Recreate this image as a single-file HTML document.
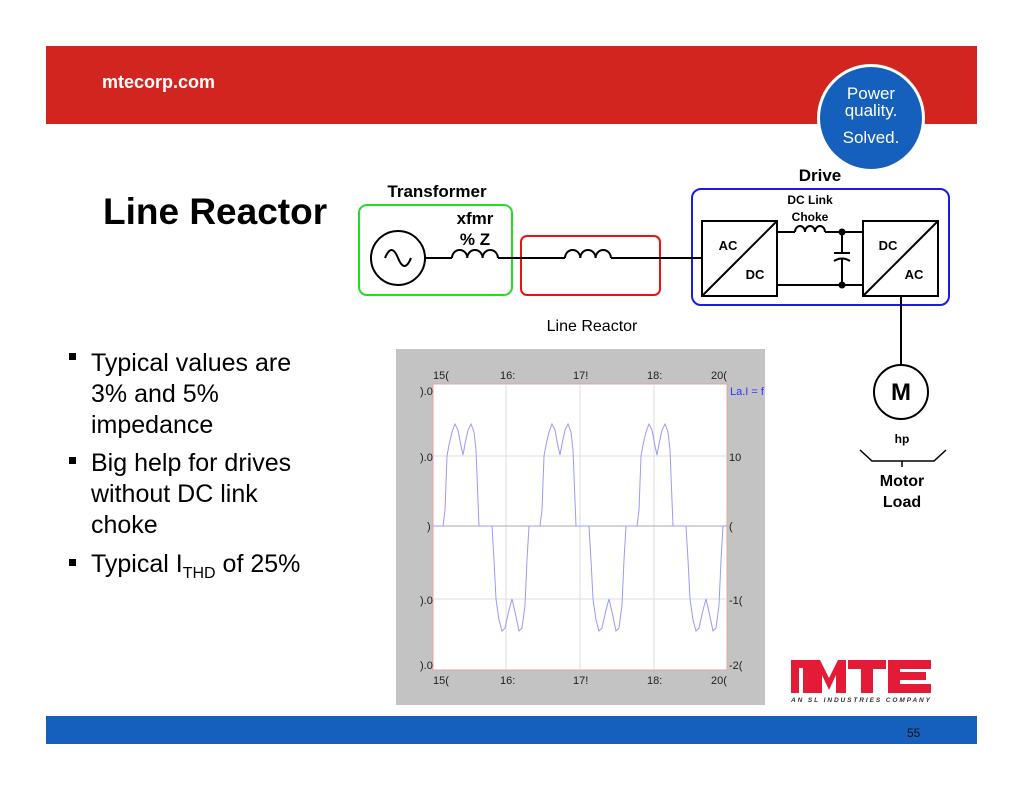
<!DOCTYPE html>
<html><head><meta charset="utf-8"><style>
html,body{margin:0;padding:0;background:#fff;}
svg{display:block;font-family:"Liberation Sans",Arial,sans-serif;}
</style></head><body>
<svg width="1024" height="791" viewBox="0 0 1024 791" xmlns="http://www.w3.org/2000/svg">
<rect x="46" y="46" width="931" height="78" fill="#d2251f"/>
<text x="102" y="88" font-size="18" font-weight="bold" fill="#fff">mtecorp.com</text>
<circle cx="871" cy="118" r="54" fill="#fff"/>
<circle cx="871" cy="118" r="51" fill="#1560bd"/>
<text x="871" y="99" font-size="17" fill="#fff" text-anchor="middle">Power</text>
<text x="871" y="116" font-size="17" fill="#fff" text-anchor="middle">quality.</text>
<text x="871" y="143" font-size="17" fill="#fff" text-anchor="middle">Solved.</text>

<text x="103" y="224" font-size="37" font-weight="bold" fill="#000">Line Reactor</text>
<g font-size="25" fill="#000">
<rect x="69" y="353" width="7" height="7" fill="#000"/>
<text x="91" y="371">Typical values are</text>
<text x="91" y="402">3% and 5%</text>
<text x="91" y="433">impedance</text>
<rect x="69" y="457" width="7" height="7" fill="#000"/>
<text x="91" y="471">Big help for drives</text>
<text x="91" y="502">without DC link</text>
<text x="91" y="533">choke</text>
<rect x="69" y="559" width="7" height="7" fill="#000"/>
<text x="91" y="572">Typical I<tspan font-size="16" dy="6">THD</tspan><tspan dy="-6"> of 25%</tspan></text>
</g>

<!-- diagram -->
<g fill="none" stroke="#000" stroke-width="2">
<rect x="359" y="205" width="153" height="90" rx="8" stroke="#22dd22"/>
<rect x="521" y="236" width="139" height="59" rx="6" stroke="#ee1111"/>
<rect x="692" y="189" width="257" height="116" rx="9" stroke="#1a1aee"/>
<circle cx="398" cy="258" r="27"/>
<path d="M385 258 q6.5 -16 13 0 t13 0"/>
<path d="M425 258 H452 M498 258 H565 M611 258 H702"/>
<path d="M452 258 a7.6 8 0 0 1 15.3 0 a7.6 8 0 0 1 15.3 0 a7.6 8 0 0 1 15.3 0"/>
<path d="M565 258 a7.6 8 0 0 1 15.3 0 a7.6 8 0 0 1 15.3 0 a7.6 8 0 0 1 15.3 0"/>
<rect x="702" y="221" width="75" height="75"/>
<path d="M702 296 L777 221"/>
<rect x="863" y="221" width="75" height="75"/>
<path d="M863 296 L938 221"/>
<path d="M777 232 H795 M825 232 H863 M777 285 H863"/>
<path d="M795 232 a5 6 0 0 1 10 0 a5 6 0 0 1 10 0 a5 6 0 0 1 10 0"/>
<path d="M842 232 V253 M842 259 V285 M834 253 H850 M834 261 q8 -5 16 0"/>
<path d="M901 296 V365"/>
<circle cx="901" cy="392" r="27"/>
<path d="M860 450 L872 461 H934 L946 450 M902 461 V467" stroke-width="1.5"/>
</g>
<circle cx="842" cy="232" r="3.5" fill="#000"/>
<circle cx="842" cy="285" r="3.5" fill="#000"/>
<g font-weight="bold" fill="#000" text-anchor="middle">
<text x="437" y="197" font-size="17">Transformer</text>
<text x="475" y="224" font-size="17">xfmr</text>
<text x="475" y="245" font-size="17">% Z</text>
<text x="820" y="181" font-size="17">Drive</text>
<text x="810" y="204" font-size="12">DC Link</text>
<text x="810" y="221" font-size="12">Choke</text>
<text x="728" y="250" font-size="13">AC</text>
<text x="755" y="279" font-size="13">DC</text>
<text x="888" y="250" font-size="13">DC</text>
<text x="914" y="279" font-size="13">AC</text>
<text x="901" y="400" font-size="24">M</text>
<text x="902" y="443" font-size="12">hp</text>
<text x="902" y="486" font-size="16">Motor</text>
<text x="902" y="507" font-size="16">Load</text>
</g>
<text x="592" y="331" font-size="16" fill="#000" text-anchor="middle">Line Reactor</text>

<!-- chart -->
<rect x="396" y="349" width="369" height="356" fill="#c3c3c3"/>
<rect x="433" y="384" width="294" height="286" fill="#fff" stroke="#e8a0a0" stroke-width="1"/>
<g stroke="#dddddd" stroke-width="1">
<path d="M506 384 V670 M580 384 V670 M654 384 V670 M433 456 H727 M433 599 H727"/>
</g>
<path d="M433 526 H727" stroke="#aaa" stroke-width="1"/>
<defs><clipPath id="pc"><rect x="433" y="384" width="294" height="286"/></clipPath></defs>
<g clip-path="url(#pc)" fill="none" stroke="#9999ff" stroke-width="1">
<path d="M433 526 L443 526 L445 510 L447 456 L449 445 L452 432 L455 424 L458 430 L461 446 L463 455 L465 444 L468 430 L471 424 L474 432 L476 450 L479 526 L492 526 L494 560 L496 599 L499 620 L502 631 L505 628 L509 610 L512 599 L515 612 L519 631 L522 628 L525 605 L527 560 L529 526 L540 526"/>
<path transform="translate(97,0)" d="M443 526 L445 510 L447 456 L449 445 L452 432 L455 424 L458 430 L461 446 L463 455 L465 444 L468 430 L471 424 L474 432 L476 450 L479 526 L492 526 L494 560 L496 599 L499 620 L502 631 L505 628 L509 610 L512 599 L515 612 L519 631 L522 628 L525 605 L527 560 L529 526 L540 526"/>
<path transform="translate(194,0)" d="M443 526 L445 510 L447 456 L449 445 L452 432 L455 424 L458 430 L461 446 L463 455 L465 444 L468 430 L471 424 L474 432 L476 450 L479 526 L492 526 L494 560 L496 599 L499 620 L502 631 L505 628 L509 610 L512 599 L515 612 L519 631 L522 628 L525 605 L527 560 L529 526 L540 526"/>
</g>
<g font-size="11" fill="#222">
<text x="433" y="379">15(</text><text x="500" y="379">16:</text><text x="573" y="379">17!</text><text x="647" y="379">18:</text><text x="711" y="379">20(</text>
<text x="433" y="684">15(</text><text x="500" y="684">16:</text><text x="573" y="684">17!</text><text x="647" y="684">18:</text><text x="711" y="684">20(</text>
<text x="420" y="395">).0</text><text x="420" y="461">).0</text><text x="427" y="530">)</text><text x="420" y="604">).0</text><text x="420" y="669">).0</text>
<text x="729" y="461">10</text><text x="729" y="530">(</text><text x="729" y="604">-1(</text><text x="729" y="669">-2(</text>
<text x="730" y="395" fill="#3333ff">La.I = f</text>
</g>

<!-- logo -->
<g fill="#e31b37">
<rect x="791" y="668" width="8" height="25"/>
<path d="M791 660 H820 L829 678 L838 660 H846 V693 H836 V675 L829 690 L822 675 V693 H803 V668 H791 Z"/>
<rect x="848" y="660" width="38" height="9"/>
<rect x="861" y="660" width="12" height="33"/>
<rect x="888" y="660" width="43" height="9"/>
<rect x="888" y="660" width="12" height="33"/>
<rect x="888" y="672" width="38" height="8"/>
<rect x="888" y="684" width="43" height="9"/>
</g>
<text x="791" y="702" font-size="6.5" font-weight="bold" font-style="italic" fill="#333" textLength="139">AN SL INDUSTRIES COMPANY</text>

<rect x="46" y="716" width="931" height="28" fill="#1560bd"/>
<text x="907" y="737" font-size="12" fill="#111">55</text>
</svg>
</body></html>
